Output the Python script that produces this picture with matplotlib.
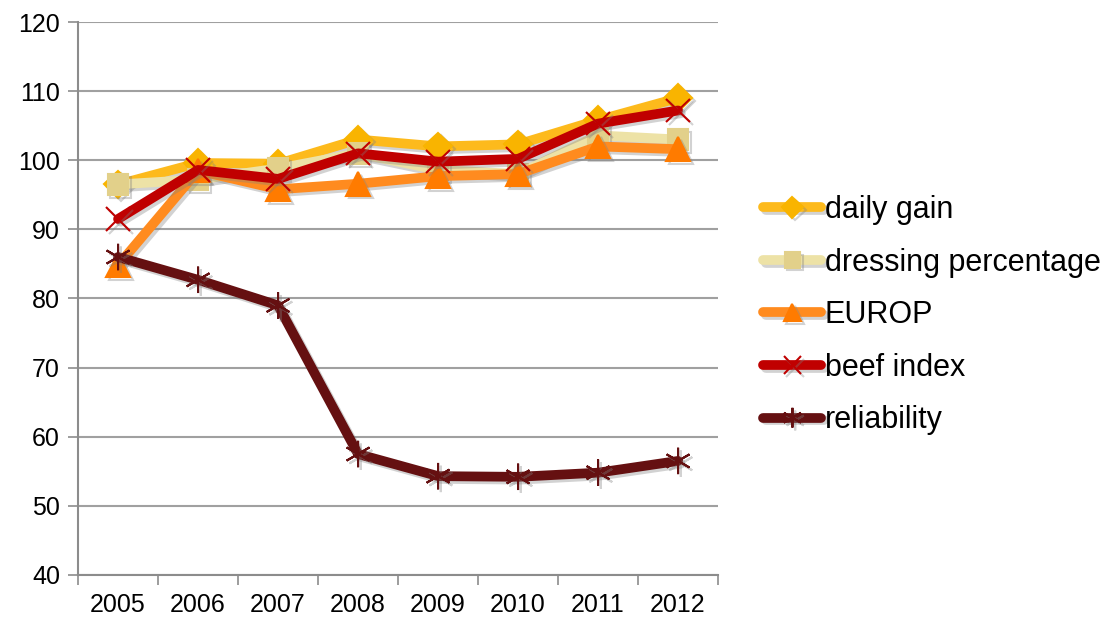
import matplotlib
matplotlib.use("Agg")
import matplotlib.pyplot as plt
import matplotlib.patheffects as pe
import numpy as np

plt.rcParams['font.family'] = ['Liberation Sans', 'DejaVu Sans']

# Datos
years = ["2005", "2006", "2007", "2008", "2009", "2010", "2011", "2012"]
daily_gain = [96.5, 99.6, 99.5, 103.0, 102.0, 102.3, 105.8, 109.0]
dressing = [96.5, 97.2, 98.8, 101.0, 98.6, 98.0, 103.6, 103.0]
europ = [84.8, 98.5, 95.8, 96.6, 97.7, 98.0, 102.0, 101.6]
beef_index = [91.5, 98.6, 97.3, 101.0, 99.8, 100.2, 105.3, 107.2]
reliability = [86.0, 82.7, 79.0, 57.5, 54.3, 54.2, 54.8, 56.5]

series = [
    ("daily gain", daily_gain, "#FDBA1C", "D", 14, "#F9B400"),
    ("dressing percentage", dressing, "#EDE2A6", "s", 15, "#E2D08A"),
    ("EUROP", europ, "#FF8B1F", "^", 17, "#FF7B00"),
    ("beef index", beef_index, "#C00000", "x", 17, "#C00000"),
    ("reliability", reliability, "#651011", (6, 2, 0), 19, "#651011"),
]

fig = plt.figure(figsize=(11.15, 6.18), dpi=100)
ax = fig.add_axes([0.070, 0.0696, 0.574, 0.8948])

x = np.arange(len(years))
shadow = [pe.SimpleLineShadow(offset=(2, -2), shadow_color="gray", alpha=0.35), pe.Normal()]
for name, vals, col, mk, ms, mcol in series:
    ax.plot(x, vals, color=col, lw=7, marker=mk, markersize=ms,
            markerfacecolor=mcol, markeredgecolor=mcol, markeredgewidth=1.5,
            label=name, solid_capstyle="round", path_effects=shadow, zorder=3)

ax.set_xlim(-0.5, len(years) - 0.5)
ax.set_ylim(40, 120)
ax.set_yticks(range(40, 121, 10))
ax.set_xticks(x)
ax.set_xticklabels(years)
ax.set_xticks(np.arange(-0.5, len(years), 1), minor=True)
ax.tick_params(axis="x", which="major", length=0, labelsize=18, pad=13)
ax.tick_params(axis="x", which="minor", length=7, color="#8c8c8c", width=1.2)
ax.tick_params(axis="y", length=7, color="#8c8c8c", width=1.2, labelsize=18, pad=6)

ax.grid(axis="y", color="#a0a0a0", lw=1.5, zorder=0)
ax.set_axisbelow(True)
for s in ["top", "right"]:
    ax.spines[s].set_visible(False)
for s in ["left", "bottom"]:
    ax.spines[s].set_color("#8c8c8c")
    ax.spines[s].set_linewidth(1.5)

leg = fig.legend(loc="center left", bbox_to_anchor=(0.66, 0.49), frameon=False,
                 fontsize=22, handlelength=1.9, handletextpad=0.1,
                 labelspacing=0.74, markerscale=0.75)

plt.savefig("out.png", dpi=100)
plt.close()
